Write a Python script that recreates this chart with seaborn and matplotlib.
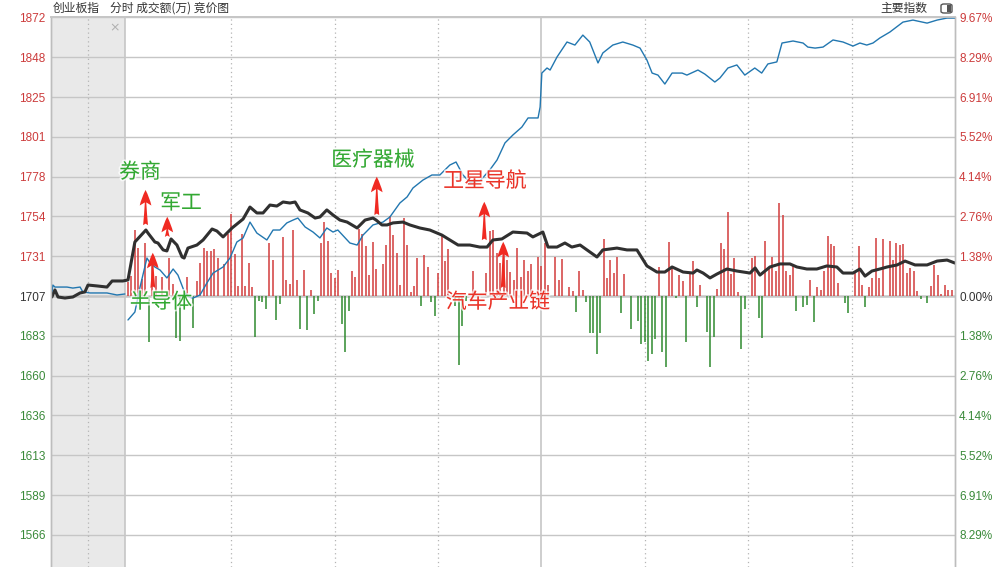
import numpy as np
import pandas as pd
import matplotlib
matplotlib.use('Agg')
import matplotlib.pyplot as plt
import matplotlib.patheffects as pe
from matplotlib.patches import FancyBboxPatch, Rectangle
import seaborn as sns

sns.set_theme(style='white')
plt.rcParams['font.family'] = ['Noto Sans CJK SC', 'DejaVu Sans']

PREV_CLOSE = 1707.2
STEP = 1.3814          # % per grid row
AMT_TO_PCT = 0.0347    # turnover units -> % axis units

# ---- call auction (minutes before 9:30 open, display scale) ----
auc_t = [-22.1, -21.2, -20.3, -18.3, -16.0, -13.9, -12.5, -11.6, -8.7, -6.1, -4.6, -1.5]
auc_idx = [1706.6, 1710.8, 1706.6, 1706.0, 1706.6, 1709.0, 1709.6, 1713.7, 1713.1, 1712.5, 1716.1, 1716.1]
auc_lead_t = [-22.1, -21.8, -21.2, -19.7, -17.7, -16.0, -13.9, -13.1, -11.0, -6.1, -3.2, -0.9]
auc_lead = [1708.4, 1713.7, 1712.5, 1712.5, 1712.5, 1711.9, 1712.5, 1709.6, 1709.0, 1709.0, 1707.8, 1708.4]

# ---- continuous session, minutes after 9:30 (0..240) ----
idx_t = [0, 2.0, 5.2, 5.8, 7.8, 8.7, 10.2, 11.3, 12.5, 14.2, 15.7, 16.3, 17.4, 20.0, 21.8, 24.4, 25.8,
         27.6, 30.2, 33.4, 35.4, 37.4, 39.2, 41.2, 43.2, 45.0, 47.0, 48.5, 49.9, 52.2, 54.3, 55.7, 57.7,
         59.5, 61.5, 63.6, 66.5, 68.8, 71.1, 72.0, 73.7, 75.2, 76.9, 79.8, 81.8, 84.7, 87.6, 91.1, 93.4,
         95.8, 99.2, 102.1, 104.2, 105.9, 108.5, 111.7, 115.8, 117.5, 120.4, 121.9, 124.5, 126.8, 128.8,
         131.2, 136.1, 137.8, 141.9, 144.8, 147.7, 150.6, 153.5, 155.8, 157.9, 161.1, 164.0, 165.1, 166.9,
         168.9, 170.9, 173.8, 176.7, 180.5, 182.0, 183.4, 186.3, 189.2, 192.1, 194.1, 197.0, 199.9, 202.8,
         205.7, 207.5, 210.4, 212.4, 213.9, 215.9, 218.2, 220.3, 223.2, 225.5, 228.4, 231.9, 234.8, 237.7, 240.0]
idx_p = [1716.7, 1739.2, 1746.3, 1744.5, 1739.2, 1738.6, 1734.5, 1733.9, 1741.0, 1737.4, 1730.3, 1729.7,
         1735.6, 1737.4, 1740.4, 1746.9, 1745.7, 1742.2, 1747.5, 1752.8, 1759.9, 1756.4, 1756.4, 1761.1,
         1760.5, 1762.9, 1762.3, 1762.9, 1758.2, 1756.4, 1753.4, 1754.0, 1758.2, 1755.2, 1752.2, 1751.0,
         1747.5, 1752.2, 1753.4, 1752.2, 1749.3, 1749.3, 1750.5, 1751.0, 1749.3, 1747.5, 1746.3, 1743.3,
         1740.4, 1737.4, 1737.4, 1736.2, 1736.2, 1740.4, 1741.0, 1745.1, 1744.5, 1742.2, 1745.1, 1736.2,
         1736.2, 1738.6, 1736.2, 1737.4, 1730.3, 1734.5, 1735.6, 1734.5, 1734.5, 1725.0, 1721.4, 1721.4,
         1724.4, 1721.4, 1720.8, 1722.6, 1720.8, 1717.9, 1720.2, 1723.2, 1722.0, 1720.8, 1723.8, 1719.6,
         1724.4, 1726.2, 1726.2, 1724.4, 1723.2, 1723.2, 1725.0, 1724.4, 1720.8, 1720.8, 1723.2, 1719.0,
         1722.0, 1723.2, 1724.4, 1725.6, 1727.9, 1725.6, 1725.6, 1727.9, 1728.5, 1726.7]

lead_t = [0, 2.0, 3.5, 5.5, 6.4, 7.8, 9.3, 11.3, 13.1, 14.5, 16.5, 17.7, 18.9, 20.9, 22.9, 24.7, 27.6, 29.6,
          31.6, 33.4, 35.4, 37.4, 40.3, 42.1, 44.1, 46.1, 47.9, 49.3, 51.4, 53.7, 55.7, 57.7, 59.5, 60.9,
          64.4, 66.5, 68.2, 71.1, 74.0, 76.0, 78.9, 81.0, 82.7, 85.6, 88.2, 90.5, 93.4, 95.2, 97.2, 99.2,
          102.1, 105.0, 107.1, 109.4, 111.7, 114.3, 116.1, 119.0, 119.6, 120.1, 121.6, 122.5, 124.5, 127.4,
          129.7, 132.0, 134.0, 136.4, 137.8, 140.7, 143.6, 146.5, 148.6, 150.6, 152.1, 153.8, 155.8, 157.9,
          160.8, 162.2, 165.4, 167.4, 170.3, 171.8, 174.1, 176.7, 179.0, 181.9, 183.9, 185.7, 188.3, 189.8,
          193.0, 195.9, 197.3, 199.4, 201.7, 204.6, 207.5, 210.4, 212.4, 214.4, 216.2, 218.2, 221.1, 224.9,
          227.8, 231.9, 234.8, 237.7, 240.0]
lead_p = [1693.0, 1697.7, 1712.5, 1729.7, 1726.8, 1724.4, 1722.6, 1717.9, 1723.2, 1719.6, 1709.0, 1706.6,
          1706.0, 1707.8, 1714.9, 1720.8, 1724.4, 1729.7, 1739.2, 1741.6, 1751.0, 1744.5, 1740.4, 1746.3,
          1746.3, 1750.5, 1752.2, 1753.4, 1748.1, 1745.1, 1741.6, 1747.5, 1745.1, 1746.3, 1738.6, 1737.4,
          1743.3, 1749.3, 1751.0, 1754.0, 1762.3, 1765.9, 1771.2, 1775.9, 1778.9, 1778.9, 1784.8, 1786.6,
          1778.9, 1774.7, 1775.3, 1781.9, 1787.8, 1797.9, 1802.6, 1807.3, 1812.7, 1812.7, 1819.2, 1839.3,
          1842.3, 1841.1, 1848.8, 1857.7, 1855.9, 1861.8, 1857.7, 1845.3, 1851.2, 1855.9, 1857.7, 1855.9,
          1854.1, 1847.0, 1839.3, 1838.1, 1832.8, 1839.3, 1839.3, 1838.1, 1841.1, 1838.7, 1834.0, 1836.4,
          1842.3, 1844.1, 1838.1, 1842.3, 1839.3, 1844.7, 1845.9, 1857.1, 1858.3, 1857.1, 1854.7, 1854.1,
          1854.7, 1858.9, 1857.7, 1855.3, 1857.1, 1855.9, 1857.1, 1860.1, 1863.6, 1869.5, 1870.7, 1868.9,
          1870.7, 1871.9, 1871.9]

# turnover bars: red = buying, green = selling
red_t = [0, 1, 2, 3, 4, 5, 7, 8, 10, 12, 13, 17, 20, 21, 22, 23, 24, 25, 26, 28, 29, 30, 31, 32, 33, 34, 35,
         36, 41, 42, 45, 46, 47, 48, 49, 51, 53, 56, 57, 58, 59, 60, 61, 65, 66, 67, 68, 69, 70, 71, 72, 74,
         75, 76, 77, 78, 79, 80, 81, 82, 83, 84, 86, 87, 90, 91, 92, 93, 100, 104, 105, 106, 107, 108, 109,
         110, 111, 112, 113, 114, 115, 116, 117, 119, 120, 121, 122, 124, 125, 126, 128, 129, 131, 132, 138,
         139, 140, 141, 142, 144, 154, 157, 158, 160, 161, 163, 164, 166, 171, 172, 173, 174, 175, 176, 177,
         181, 182, 185, 186, 187, 188, 189, 190, 191, 192, 193, 198, 200, 201, 202, 203, 204, 205, 206, 211,
         212, 213, 215, 216, 217, 218, 219, 221, 222, 223, 224, 225, 226, 227, 228, 229, 233, 234, 235, 236,
         237, 238, 239]
red_amt = [14, 20, 66, 48, 17, 53, 37, 20, 19, 38, 12, 19, 15, 33, 48, 45, 45, 47, 38, 32, 62, 82, 42, 10,
           62, 10, 33, 9, 53, 36, 59, 16, 12, 66, 16, 26, 6, 53, 74, 55, 23, 18, 26, 25, 19, 67, 62, 50, 21,
           54, 27, 32, 51, 80, 61, 43, 11, 78, 51, 4, 10, 38, 41, 29, 23, 61, 35, 47, 25, 23, 65, 66, 43, 33,
           49, 36, 24, 16, 48, 19, 36, 25, 32, 39, 30, 53, 11, 39, 16, 37, 9, 5, 25, 6, 57, 18, 36, 23, 39,
           22, 29, 54, 28, 21, 15, 23, 35, 11, 7, 53, 47, 84, 22, 38, 4, 38, 40, 55, 29, 39, 25, 93, 81, 25,
           21, 31, 16, 9, 6, 25, 60, 52, 50, 13, 23, 50, 11, 9, 18, 58, 18, 57, 55, 36, 53, 51, 52, 23, 28,
           25, 5, 10, 31, 21, 2, 11, 6, 6]
green_t = [6, 14, 15, 19, 37, 38, 39, 40, 43, 44, 50, 52, 54, 55, 62, 63, 64, 85, 88, 89, 95, 96, 97, 98,
           130, 133, 134, 135, 136, 137, 143, 146, 148, 149, 150, 151, 152, 153, 155, 156, 159, 162, 165,
           168, 169, 170, 178, 179, 183, 184, 194, 196, 197, 199, 208, 209, 214, 230, 232]
green_amt = [46, 42, 45, 32, 41, 5, 6, 13, 24, 8, 33, 34, 18, 5, 28, 56, 15, 10, 6, 20, 10, 69, 30, 5,
             16, 6, 37, 37, 58, 37, 17, 33, 25, 48, 46, 65, 58, 43, 56, 71, 2, 46, 11, 36, 71, 41, 53, 13,
             22, 42, 15, 11, 9, 26, 7, 17, 11, 3, 7]

# sector annotations
notes = ['券商', '军工', '半导体', '医疗器械', '卫星导航', '汽车产业链']
note_colors = ['#32a832', '#32a832', '#32a832', '#32a832', '#ea3328', '#ea3328']
note_xy = [(3.5, 4.30), (15.4, 3.23), (9.6, -0.21), (71.1, 4.72), (103.6, 3.99), (107.4, -0.21)]
arrow_x = [5.1, 11.4, 7.2, 72.2, 103.4, 108.9]
arrow_tip = [3.68, 2.75, 1.50, 4.14, 3.27, 1.88]
arrow_tail = [2.46, 2.05, 0.28, 2.81, 1.94, 0.28]

left_labels = ['1872', '1848', '1825', '1801', '1778', '1754', '1731', '1707',
               '1683', '1660', '1636', '1613', '1589', '1566']
right_labels = ['9.67%', '8.29%', '6.91%', '5.52%', '4.14%', '2.76%', '1.38%', '0.00%',
                '1.38%', '2.76%', '4.14%', '5.52%', '6.91%', '8.29%']


def pct(p):
    return (np.asarray(p) / PREV_CLOSE - 1) * 100


RED, GREEN, DARK = '#cc3b3b', '#3a8a3a', '#333333'
GRID = '#c6c6c6'

fig = plt.figure(figsize=(10.05, 5.67), dpi=100)
fig.patch.set_facecolor('white')
ax = fig.add_axes([51 / 1005, 0, 904 / 1005, 549.6 / 567])
ax.set_facecolor('white')
x0, x_auc = -22.34, -0.87
ax.set_xlim(x0, 240)
ax.set_ylim(-9.406, 7 * STEP)

ax.axvspan(x0, x_auc, color='#e9e9e9', zorder=0, lw=0)
for k in range(-7, 8):
    ax.axhline(k * STEP, color=GRID, lw=1.8 if k == 0 else 1.0, zorder=1)
for v in [x_auc, 120]:
    ax.axvline(v, color=GRID, lw=1.2, zorder=1)
for v in [-11.6, 30, 60, 90, 150, 180, 210]:
    ax.axvline(v, color='#b4b4b4', lw=0.9, ls=(0, (1, 2.5)), zorder=1)
ax.text(-3.8, 9.3, '×', color='#b0b0b0', fontsize=9, ha='center', va='center', family='DejaVu Sans')

# turnover bars
ax.vlines(red_t, 0, np.array(red_amt) * AMT_TO_PCT, colors='#d23c3c', lw=1.1, zorder=2)
ax.vlines(green_t, 0, -np.array(green_amt) * AMT_TO_PCT, colors='#2f8a2f', lw=1.1, zorder=2)

# lines
lead_df = pd.DataFrame({'t': lead_t, 'v': pct(lead_p)})
auc_lead_df = pd.DataFrame({'t': auc_lead_t, 'v': pct(auc_lead)})
idx_df = pd.DataFrame({'t': auc_t + idx_t, 'v': pct(auc_idx + idx_p)})
sns.lineplot(data=auc_lead_df, x='t', y='v', ax=ax, color='#2277b0', lw=1.0, estimator=None, sort=False, zorder=3)
sns.lineplot(data=lead_df, x='t', y='v', ax=ax, color='#2277b0', lw=1.0, estimator=None, sort=False, zorder=3)
sns.lineplot(data=idx_df, x='t', y='v', ax=ax, color='#303030', lw=2.2, estimator=None, sort=False, zorder=4)
ax.set_xlabel('')
ax.set_ylabel('')

# annotations
halo = [pe.withStroke(linewidth=2.5, foreground='white', alpha=0.7)]
for txt, c, (tx, ty) in zip(notes, note_colors, note_xy):
    ax.text(tx, ty, txt, color=c, fontsize=15, ha='center', va='center', zorder=6, path_effects=halo)
for xa, tip, tail in zip(arrow_x, arrow_tip, arrow_tail):
    ax.annotate('', xy=(xa, tip), xytext=(xa, tail), zorder=5,
                arrowprops=dict(arrowstyle='fancy,head_length=0.8,head_width=0.6,tail_width=0.25',
                                color='#f02a22', lw=0, shrinkA=0, shrinkB=0, mutation_scale=14))

# axes decoration
ticks = [k * STEP for k in range(7, -7, -1)]
ax.set_xticks([])
ax.set_yticks(ticks)
ax.set_yticklabels(left_labels, family='Liberation Sans', fontsize=8.5)
ax.tick_params(axis='y', length=0, pad=4)
ax2 = ax.twinx()
ax2.set_ylim(ax.get_ylim())
ax2.set_yticks(ticks)
ax2.set_yticklabels(right_labels, family='Liberation Sans', fontsize=8.5)
ax2.tick_params(axis='y', length=0, pad=3)
ax2.set_ylabel('')
ax2.grid(False)
ax.grid(False)
for a in (ax, ax2):
    for lab, t in zip(a.get_yticklabels(), ticks):
        lab.set_color(RED if t > 0.01 else (GREEN if t < -0.01 else DARK))
    for s in ['left', 'right']:
        a.spines[s].set_color('#bdbdbd')
        a.spines[s].set_linewidth(1.0)
    a.spines['bottom'].set_visible(False)
    a.spines['top'].set_color(GRID)

# header
fig.text(53 / 1005, 1 - 8 / 567, '创业板指', fontsize=8.5, color=DARK, va='center', ha='left')
fig.text(110 / 1005, 1 - 8 / 567, '分时 成交额(万) 竞价图', fontsize=8.5, color=DARK, va='center', ha='left')
fig.text(927 / 1005, 1 - 8 / 567, '主要指数', fontsize=8.5, color=DARK, va='center', ha='right')
fig.patches.append(FancyBboxPatch((941 / 1005, 1 - 13 / 567), 11 / 1005, 9 / 567,
                                  boxstyle='round,pad=0,rounding_size=0.003', transform=fig.transFigure,
                                  fc='white', ec='#555555', lw=1.0))
fig.patches.append(Rectangle((947 / 1005, 1 - 12 / 567), 4 / 1005, 7 / 567, transform=fig.transFigure,
                             fc='#555555', ec='none'))

fig.savefig('out.png', dpi=100, facecolor='white')
